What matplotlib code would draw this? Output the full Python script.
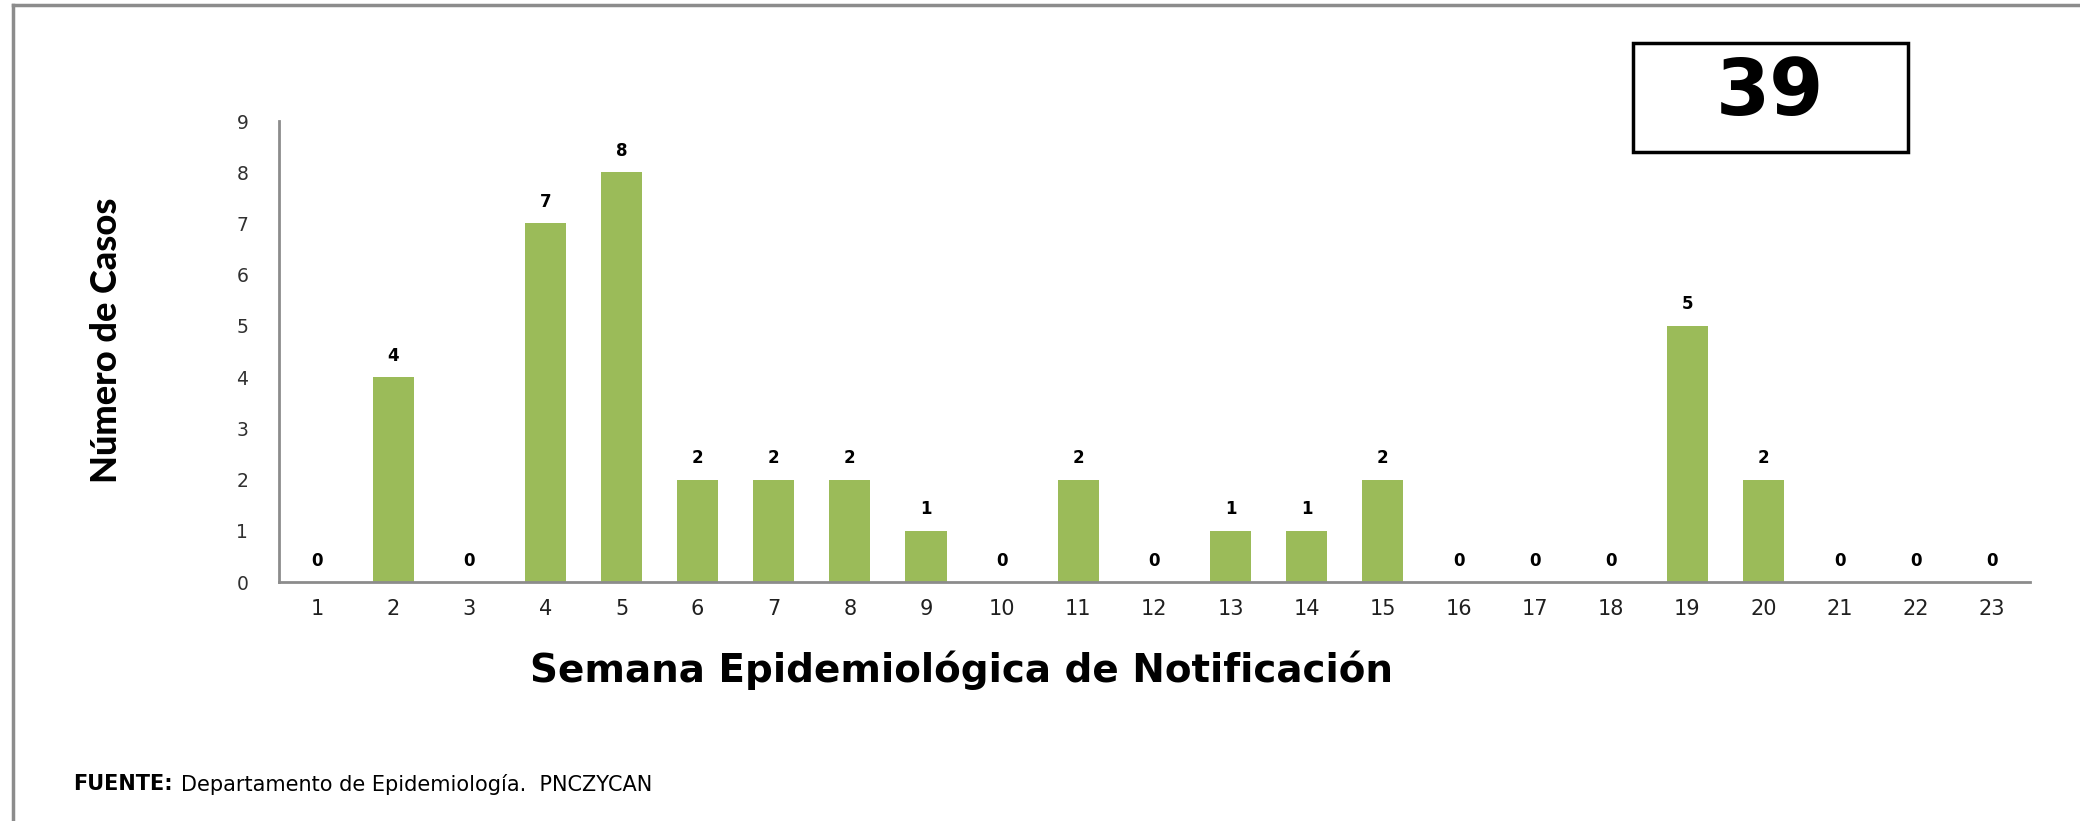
import matplotlib.pyplot as plt
from matplotlib.patches import Rectangle
from matplotlib.lines import Line2D

# semana epidemiologica y casos notificados
semanas = list(range(1, 24))
casos = [0, 4, 0, 7, 8, 2, 2, 2, 1, 0, 2, 0, 1, 1, 2, 0, 0, 0, 5, 2, 0, 0, 0]
total = 39

bar_color = '#9BBB59'
axis_gray = '#8C8C8C'

fig = plt.figure(figsize=(20.8, 8.21), dpi=100)
ax = fig.add_axes([0.1341, 0.2911, 0.8418, 0.5615])

ax.bar(semanas, casos, width=0.54, color=bar_color, zorder=2)
for x, v in zip(semanas, casos):
    ax.annotate(str(v), (x, v), xytext=(0, 9), textcoords='offset points',
                ha='center', va='bottom', fontsize=12, fontweight='bold')

ax.set_xlim(0.5, 23.5)
ax.set_ylim(0, 9)
ax.set_xticks(semanas)
ax.set_yticks(range(0, 10))
ax.tick_params(axis='x', length=0, pad=12, labelsize=15, labelcolor='#202020')
ax.tick_params(axis='y', length=0, pad=22, labelsize=13.5, labelcolor='#303030')

for s in ['top', 'right']:
    ax.spines[s].set_visible(False)
for s in ['left', 'bottom']:
    ax.spines[s].set_color(axis_gray)
    ax.spines[s].set_linewidth(2)

# etiquetas de ejes
fig.text(0.4625, 0.184, 'Semana Epidemiológica de Notificación', ha='center', va='center',
         fontsize=28, fontweight='bold')
fig.text(0.051, 0.585, 'Número de Casos', rotation=90, ha='center', va='center',
         fontsize=26, fontweight='black', family=['Lato', 'DejaVu Sans'])

# fuente
t = fig.text(0.035, 0.045, 'FUENTE:', ha='left', va='center', fontsize=15, fontweight='bold')
fig.canvas.draw()
bb = t.get_window_extent()
fig.text(bb.x1 / fig.bbox.width + 0.004, 0.045, 'Departamento de Epidemiología.  PNCZYCAN',
         ha='left', va='center', fontsize=15)

# recuadro con el total
fig.patches.append(Rectangle((1633 / 2080, 1 - 152 / 821), 275 / 2080, 109 / 821,
                             transform=fig.transFigure, fill=False, edgecolor='black', linewidth=2.5))
fig.text(1770 / 2080, 1 - 93 / 821, str(total), ha='center', va='center',
         fontsize=56, fontweight='bold')

# marco parcial de la figura
fig.lines.append(Line2D([13 / 2080, 13 / 2080], [0, 1 - 5 / 821], transform=fig.transFigure,
                        color=axis_gray, linewidth=2.5))
fig.lines.append(Line2D([13 / 2080, 1], [1 - 5 / 821, 1 - 5 / 821], transform=fig.transFigure,
                        color=axis_gray, linewidth=2.5))

fig.savefig('out.png', dpi=100)
